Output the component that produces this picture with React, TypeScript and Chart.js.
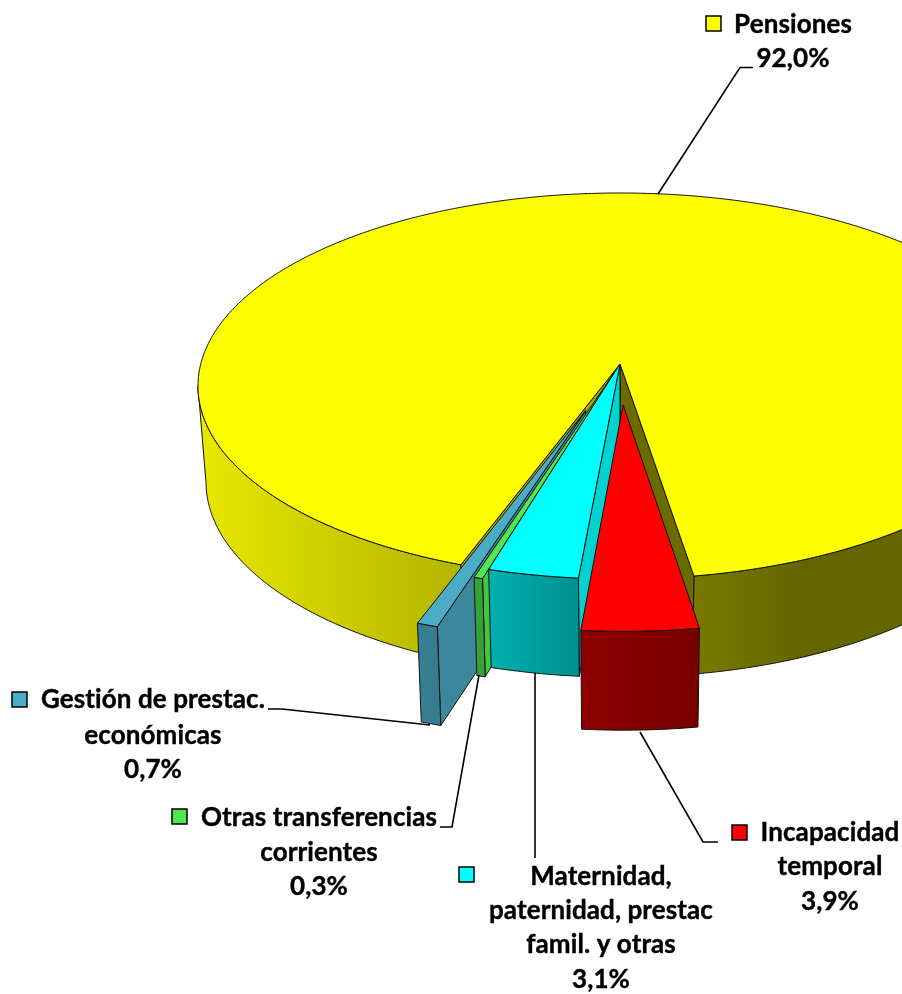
import React, { useEffect, useRef } from "react";
import { Chart, registerables } from "chart.js";

Chart.register(...registerables);

// ---- data ----
const categories = ["Pensiones", "Incapacidad temporal", "Maternidad, paternidad, prestac famil. y otras", "Otras transferencias corrientes", "Gestión de prestac. económicas"];
const values = [92.0, 3.9, 3.1, 0.3, 0.7];
const labelLines = [
  ["Pensiones"],
  ["Incapacidad", "temporal"],
  ["Maternidad,", "paternidad, prestac", "famil. y otras"],
  ["Otras transferencias", "corrientes"],
  ["Gestión de prestac.", "económicas"],
];
const sliceColors = ["#FFFF00", "#FF0000", "#00FFFF", "#50E850", "#4BACC6"];
const explodeFractions = [0, 0.21, 0, 0.04, 0.25];

// ---- style / layout ----
const W = 902, H = 994;
const RX = 422, RY = 193, CX = 620, CY = 386;
const TILT = -0.114;
const FONT = 'bold 26px Lato, "Open Sans", sans-serif';
const LINE_YS = [[25, 59], [833, 867, 902], [877, 911, 945, 980], [818, 853, 887], [700, 736, 770]];
const TEXT_CX = [793, 830, 601, 319, 153];
const SWATCH = [[706, 16], [732, 825], [459, 867], [172, 809], [12, 692]];
const LEADERS = [
  [[658, 194], [740, 67.5], [753, 67.5]],
  [[640, 732], [703, 842], [718, 842]],
  [[535, 673], [535, 858]],
  [[479, 675], [452, 827], [440, 827]],
  [[430, 725], [282, 709], [268, 709]],
];
const SHADE_XS = [198, 440, 487, 578, 700, 800, 902];
const SHADE_VS = [0.91, 0.72, 0.69, 0.565, 0.47, 0.4, 0.4];
const RADIAL_SHADE = [0.42, 0, 0.82, 0.85, 0.79];
const YELLOW_START_SHADE = 0.66;
const LINE = "#111";

function rgb(hex: string) {
  return [1, 3, 5].map((i) => parseInt(hex.slice(i, i + 2), 16));
}
function shaded(hex: string, f: number) {
  const [r, g, b] = rgb(hex);
  return `rgb(${Math.round(r * f)},${Math.round(g * f)},${Math.round(b * f)})`;
}
function project(dx: number, dy: number) {
  const s = Math.sqrt(1 - TILT * TILT);
  const d = 1 + TILT * dy;
  return [CX + RX * ((dx * s) / d), CY + RY * ((dy + TILT) / d)];
}
function drop(p: number[]) {
  const h = 96 + (p[1] - 395) * 0.012;
  return [CX + (p[0] - CX) * 0.981, p[1] + h];
}
function poly(ctx: CanvasRenderingContext2D, pts: number[][], fill: any, lw = 1) {
  ctx.beginPath();
  pts.forEach((p, i) => (i ? ctx.lineTo(p[0], p[1]) : ctx.moveTo(p[0], p[1])));
  ctx.closePath();
  ctx.fillStyle = fill;
  ctx.fill();
  ctx.lineWidth = lw;
  ctx.strokeStyle = LINE;
  ctx.lineJoin = "round";
  ctx.stroke();
}

const pie3d = {
  id: "pie3d",
  beforeDatasetsDraw(chart: any) {
    const ctx: CanvasRenderingContext2D = chart.ctx;
    const arcs = chart.getDatasetMeta(0).data;
    const grad = (hex: string) => {
      const g = ctx.createLinearGradient(SHADE_XS[0], 0, SHADE_XS[SHADE_XS.length - 1], 0);
      SHADE_XS.forEach((x, i) => g.addColorStop((x - SHADE_XS[0]) / (SHADE_XS[SHADE_XS.length - 1] - SHADE_XS[0]), shaded(hex, SHADE_VS[i])));
      return g;
    };
    const geometry = (arc: any) => {
      const mid = (arc.startAngle + arc.endAngle) / 2;
      const e = arc.options.offset / arc.outerRadius;
      const ox = e * Math.cos(mid), oy = e * Math.sin(mid);
      const rimAt = (a: number) => project(Math.cos(a) + ox, Math.sin(a) + oy);
      const n = Math.max(2, Math.ceil((arc.endAngle - arc.startAngle) / (Math.PI / 360)));
      const angles: number[] = [];
      for (let i = 0; i <= n; i++) angles.push(arc.startAngle + ((arc.endAngle - arc.startAngle) * i) / n);
      return { apex: project(ox, oy), rimAt, angles };
    };
    const outerWalls = (g: any, hex: string) => {
      let run: number[][] = [];
      const flush = () => {
        if (run.length > 1) poly(ctx, [...run, ...run.map(drop).reverse()], grad(hex));
        run = [];
      };
      g.angles.forEach((a: number) => {
        if (Math.sin(a) > -TILT) run.push(g.rimAt(a));
        else flush();
      });
      flush();
    };
    const radialWall = (g: any, a: number, fill: string) => {
      const r = g.rimAt(a);
      poly(ctx, [g.apex, r, drop(r), drop(g.apex)], fill);
    };
    const top = (g: any, hex: string) => {
      poly(ctx, [g.apex, ...g.angles.map(g.rimAt)], hex);
    };

    // the main slice first, then the small ones from left to right
    const main = geometry(arcs[0]);
    outerWalls(main, sliceColors[0]);
    radialWall(main, arcs[0].startAngle, shaded(sliceColors[0], YELLOW_START_SHADE));
    radialWall(main, arcs[0].endAngle, shaded(sliceColors[0], RADIAL_SHADE[0]));
    top(main, sliceColors[0]);

    [4, 3, 2, 1].forEach((i) => {
      const g = geometry(arcs[i]);
      if (RADIAL_SHADE[i] > 0) radialWall(g, arcs[i].startAngle, shaded(sliceColors[i], RADIAL_SHADE[i]));
      outerWalls(g, sliceColors[i]);
      top(g, sliceColors[i]);
    });

    // leader lines
    ctx.strokeStyle = "#000";
    ctx.lineWidth = 1.6;
    ctx.lineJoin = "miter";
    LEADERS.forEach((l) => {
      ctx.beginPath();
      l.forEach((p, i) => (i ? ctx.lineTo(p[0], p[1]) : ctx.moveTo(p[0], p[1])));
      ctx.stroke();
    });

    // labels and swatches
    ctx.font = FONT;
    ctx.textAlign = "center";
    ctx.textBaseline = "middle";
    (ctx as any).letterSpacing = "0.1px";
    values.forEach((v, i) => {
      const lines = [...labelLines[i], v.toFixed(1).replace(".", ",") + "%"];
      ctx.fillStyle = "#000";
      ctx.strokeStyle = "#000";
      ctx.lineWidth = 0.4;
      lines.forEach((t, j) => {
        ctx.fillText(t, TEXT_CX[i], LINE_YS[i][j]);
        ctx.strokeText(t, TEXT_CX[i], LINE_YS[i][j]);
      });
      ctx.fillStyle = sliceColors[i];
      ctx.lineWidth = 1.5;
      ctx.fillRect(SWATCH[i][0], SWATCH[i][1], 15, 15);
      ctx.strokeRect(SWATCH[i][0], SWATCH[i][1], 15, 15);
    });
    return false;
  },
};

export default function App() {
  const ref = useRef<HTMLCanvasElement>(null);
  useEffect(() => {
    const chart = new Chart(ref.current as HTMLCanvasElement, {
      type: "pie",
      data: {
        labels: categories,
        datasets: [
          {
            data: values,
            backgroundColor: sliceColors,
            offset: explodeFractions.map((e) => e * RX),
            borderWidth: 1,
            borderColor: LINE,
          },
        ],
      },
      options: {
        responsive: false,
        animation: false,
        radius: RX,
        rotation: -160.2,
        layout: { padding: 0 },
        plugins: { legend: { display: false }, tooltip: { enabled: false }, title: { display: false } },
      } as any,
      plugins: [pie3d as any],
    });
    return () => chart.destroy();
  }, []);
  return (
    <div style={{ position: "absolute", left: 0, top: 0, width: W, height: H, overflow: "hidden", background: "#fff" }}>
      <canvas ref={ref} width={W} height={H} style={{ display: "block" }} />
    </div>
  );
}
